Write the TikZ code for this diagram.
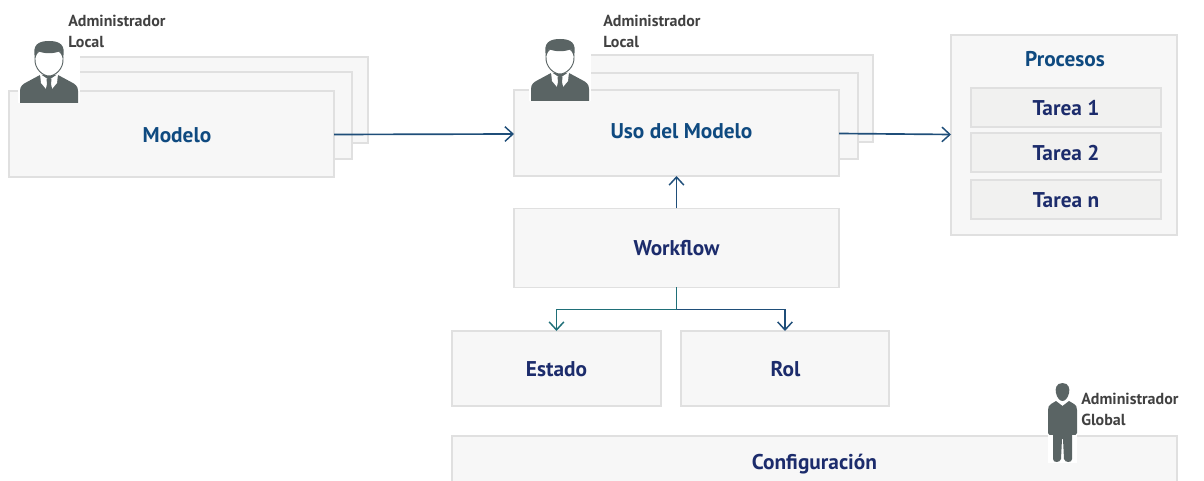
\documentclass[tikz,border=0pt]{standalone}
\usepackage{fontspec}
\setmainfont{PT Sans}
\usetikzlibrary{arrows.meta}
\definecolor{boxfill}{HTML}{F7F7F7}
\definecolor{taskfill}{HTML}{F1F1F0}
\definecolor{boxline}{HTML}{E0E0E0}
\definecolor{titleblue}{HTML}{0F4A80}
\definecolor{titlenavy}{HTML}{1C2C6C}
\definecolor{labelgrey}{HTML}{414141}
\definecolor{figgrey}{HTML}{5A6464}
\definecolor{linkblue}{HTML}{1F4E79}
\definecolor{linkteal}{HTML}{1F6F78}
\tikzset{
  x=0.75pt,y=-0.75pt,
  panel/.style n args={2}{draw=boxline,fill=boxfill,line width=1.1pt,inner sep=0pt,outer sep=0pt,
    minimum width=#1*0.75pt,minimum height=#2*0.75pt},
  task/.style={fill=taskfill},
  caption/.style={inner sep=0pt,font=\fontsize{16}{18}\selectfont\bfseries},
  bluetext/.style={caption,text=titleblue},
  navytext/.style={caption,text=titlenavy},
  adminlabel/.style={anchor=north west,align=left,inner sep=0pt,text=labelgrey,
    font=\fontsize{12}{15.8}\selectfont\bfseries},
  link/.style={draw=linkblue,line width=1.25pt,-{Straight Barb[length=6pt,width=11pt,line width=1.1pt]}},
  tealink/.style={draw=linkteal,line width=1.25pt,-{Straight Barb[length=6pt,width=11pt,line width=1.1pt]}},
  bust/.pic={
    \fill[white] (-2,-22) rectangle (59.5,62);
    \fill[figgrey] (0,62) -- (0,50) .. controls (0,45) and (3,43) .. (7,41)
      -- (20,34) -- (38,34) -- (51,41) .. controls (55,43) and (58,45) .. (58,50) -- (58,62) -- cycle;
    \fill[white] (20,33) -- (29,39) -- (38,33) -- (37,42) -- (32,48) -- (29,40) -- (26,48) -- (21,42) -- cycle;
    \fill[figgrey] (26.5,38) -- (31.5,38) -- (31,43) -- (32.5,50) -- (25.5,50) -- (27,43) -- cycle;
    \draw[figgrey,fill=white,line width=0.7pt] (15,17)
      .. controls (14,28) and (23,35) .. (29,35) .. controls (35,35) and (44,28) .. (43,17)
      .. controls (44,5) and (14,5) .. (15,17) -- cycle;
    \fill[figgrey] (15,17) .. controls (12,4) and (18,0) .. (29,0)
      .. controls (40,0) and (46,4) .. (43,17) .. controls (42,15) and (41,13) .. (40,10)
      .. controls (34,13) and (24,13) .. (18,10) .. controls (17,13) and (16,15) .. (15,17) -- cycle;
  },
  statue/.pic={
    \fill[white] (0,0) rectangle (29,80);
    \fill[figgrey] (14.5,0) .. controls (8,0) and (7,6) .. (8,10) .. controls (9,15) and (12,18) .. (14.5,18)
      .. controls (17,18) and (20,15) .. (21,10) .. controls (22,6) and (21,0) .. (14.5,0) -- cycle;
    \fill[figgrey] (3,21) -- (8,18) -- (14.5,23) -- (21,18) -- (26,21)
      .. controls (28,22) and (29,24) .. (29,27) -- (29,50) .. controls (29,52) and (27,52) .. (24,52)
      -- (24,76) .. controls (24,80) and (17,80) .. (16,76) -- (15,56) -- (14,56) -- (13,76)
      .. controls (12,80) and (5,80) .. (5,76) -- (5,52) .. controls (2,52) and (0,52) .. (0,50)
      -- (0,27) .. controls (0,24) and (1,22) .. (3,21) -- cycle;
  },
}
\begin{document}
\begin{tikzpicture}
\clip (0,0) rectangle (1204,481);
% Modelo stack
\node[panel={290}{86}] (mback) at (223,100) {};
\node[panel={290}{87}] (mmid) at (207,115.5) {};
\node[panel={325}{86}] (modelo) at (171.5,134) {};
\node[bluetext] (modelotxt) at (177,135) {Modelo};
% Uso stack
\node[panel={283}{87}] (uback) at (731.5,98.5) {};
\node[panel={283}{86}] (umid) at (716.5,116) {};
\node[panel={325}{86}] (uso) at (676.5,133) {};
\node[bluetext] (usotxt) at (681.5,131) {Uso del Modelo};
% Procesos
\node[panel={226}{200}] (proc) at (1064,135) {};
\node[bluetext] (proctxt) at (1065,59) {Procesos};
\node[panel={190}{39},task] (t1) at (1066,107.5) {};
\node[panel={190}{39},task] (t2) at (1066,152.5) {};
\node[panel={190}{39},task] (tn) at (1066,199.5) {};
\node[navytext] at (1066,108.5) (t1txt) {Tarea 1};
\node[navytext] at (1066,153) (t2txt) {Tarea 2};
\node[navytext] at (1066,200) (tntxt) {Tarea n};
% Workflow group
\node[panel={325}{79}] (wf) at (676.5,248) {};
\node[navytext] (wftxt) at (676.5,248) {Workflow};
\node[panel={209}{75}] (estado) at (556.5,368.5) {};
\node[navytext] (estadotxt) at (556.5,369) {Estado};
\node[panel={208}{75}] (rol) at (785,368.5) {};
\node[navytext] (roltxt) at (785.5,369) {Rol};
\node[panel={725}{56}] (config) at (814.5,464) {};
\node[navytext] (configtxt) at (814.5,464) {Configuración};
% Connector ends
\coordinate (mOut) at (334,134.5);
\coordinate (uIn) at (514,134);
\coordinate (uOut) at (839,133.5);
\coordinate (pIn) at (951,134.5);
\draw[link] (mOut) -- (uIn);
\draw[link] (uOut) -- (pIn);
\draw[link] (wf.north) -- (uso.south);
\draw[link] (wf.south) -- ++(0,22) -| (rol.north);
\draw[tealink] (wf.south) -- ++(0,22) -| (estado.north);
% Figures and labels
\pic at (20,41) {bust};
\pic at (531,39) {bust};
\pic at (1048,383) {statue};
\node[adminlabel] (a1) at (68,14.5) {Administrador\\Local};
\node[adminlabel] (a2) at (603,14.5) {Administrador\\Local};
\node[adminlabel] (a3) at (1081,392.5) {Administrador\\Global};
\end{tikzpicture}
\end{document}
